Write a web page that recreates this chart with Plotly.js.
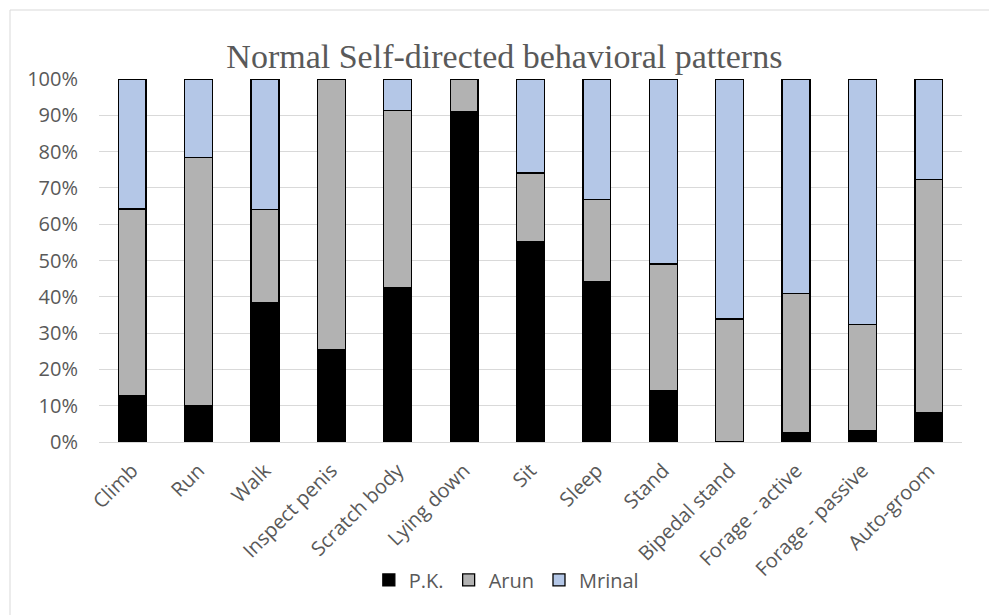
<!DOCTYPE html>
<html>
<head>
<meta charset="utf-8">
<script src="https://cdn.plot.ly/plotly-3.0.1.min.js"></script>
<style>
  html, body { margin: 0; padding: 0; background: #ffffff; overflow: hidden; }
  #chart { width: 989px; height: 615px; }
</style>
</head>
<body>
<div id="chart"></div>
<script>
// Behaviour categories along the x axis
const categories = [
  "Climb", "Run", "Walk", "Inspect penis", "Scratch body", "Lying down",
  "Sit", "Sleep", "Stand", "Bipedal stand", "Forage - active",
  "Forage - passive", "Auto-groom"
];

// Share of each behaviour per animal (percent, stacks to 100)
const pk     = [12.7, 10.1, 38.3, 25.5, 42.5, 91.1, 55.3, 44.3, 14.2,  0.0,  2.6,  3.2,  8.0];
const arun   = [51.5, 68.3, 25.7, 74.5, 48.9,  8.9, 18.8, 22.5, 34.8, 33.9, 38.4, 29.2, 64.4];
const mrinal = [35.8, 21.6, 36.0,  0.0,  8.6,  0.0, 25.9, 33.2, 51.0, 66.1, 59.0, 67.6, 27.6];

const yTickVals  = [0, 10, 20, 30, 40, 50, 60, 70, 80, 90, 100];
const yTickTexts = ["0%", "10%", "20%", "30%", "40%", "50%", "60%", "70%", "80%", "90%", "100%"];

const seriesNames  = ["P.K.", "Arun", "Mrinal"];
const seriesColors = ["#000000", "#b2b2b2", "#b4c7e7"];
const seriesValues = [pk, arun, mrinal];

const traces = seriesValues.map((vals, i) => ({
  type: "bar",
  name: seriesNames[i],
  x: categories,
  y: vals,
  marker: { color: seriesColors[i], line: { color: "#000000", width: 1.3 } },
  hoverinfo: "x+y+name"
}));

const labelFont = { family: "Open Sans, sans-serif", size: 20, color: "#595959" };

const layout = {
  width: 989,
  height: 615,
  margin: { l: 99, r: 27, t: 79, b: 173 },
  paper_bgcolor: "#ffffff",
  plot_bgcolor: "#ffffff",
  barmode: "stack",
  bargap: 0.58,
  title: {
    text: "Normal Self-directed behavioral patterns",
    font: { family: "Liberation Serif, Times New Roman, serif", size: 34, color: "#595959" },
    xref: "container", x: 0.51, xanchor: "center",
    yref: "container", y: 1 - 56 / 615, yanchor: "middle"
  },
  xaxis: {
    type: "category",
    tickangle: -45,
    tickfont: labelFont,
    showgrid: false,
    showline: true,
    linecolor: "#d9d9d9",
    linewidth: 1,
    ticks: "",
    ticklabelstandoff: 8,
    automargin: false
  },
  yaxis: {
    range: [0, 100],
    tickvals: yTickVals,
    ticktext: yTickTexts,
    tickfont: labelFont,
    showgrid: true,
    gridcolor: "#d9d9d9",
    gridwidth: 1,
    zeroline: false,
    showline: false,
    ticks: "",
    ticklabelstandoff: 20,
    fixedrange: true,
    automargin: false
  },
  legend: {
    orientation: "h",
    x: 0.472, xanchor: "center",
    y: -0.38, yanchor: "middle",
    font: labelFont,
    traceorder: "normal",
    bgcolor: "rgba(0,0,0,0)"
  },
  shapes: [{
    // light frame around the chart area
    type: "rect",
    xref: "paper", yref: "paper",
    x0: (10 - 99) / 863, x1: 1.5,
    y0: -1.0, y1: (442 - 10) / 363,
    line: { color: "#d9d9d9", width: 1 },
    fillcolor: "rgba(0,0,0,0)",
    layer: "below"
  }],
  showlegend: true
};

Plotly.newPlot("chart", traces, layout, { displayModeBar: false, staticPlot: true });
</script>
</body>
</html>
